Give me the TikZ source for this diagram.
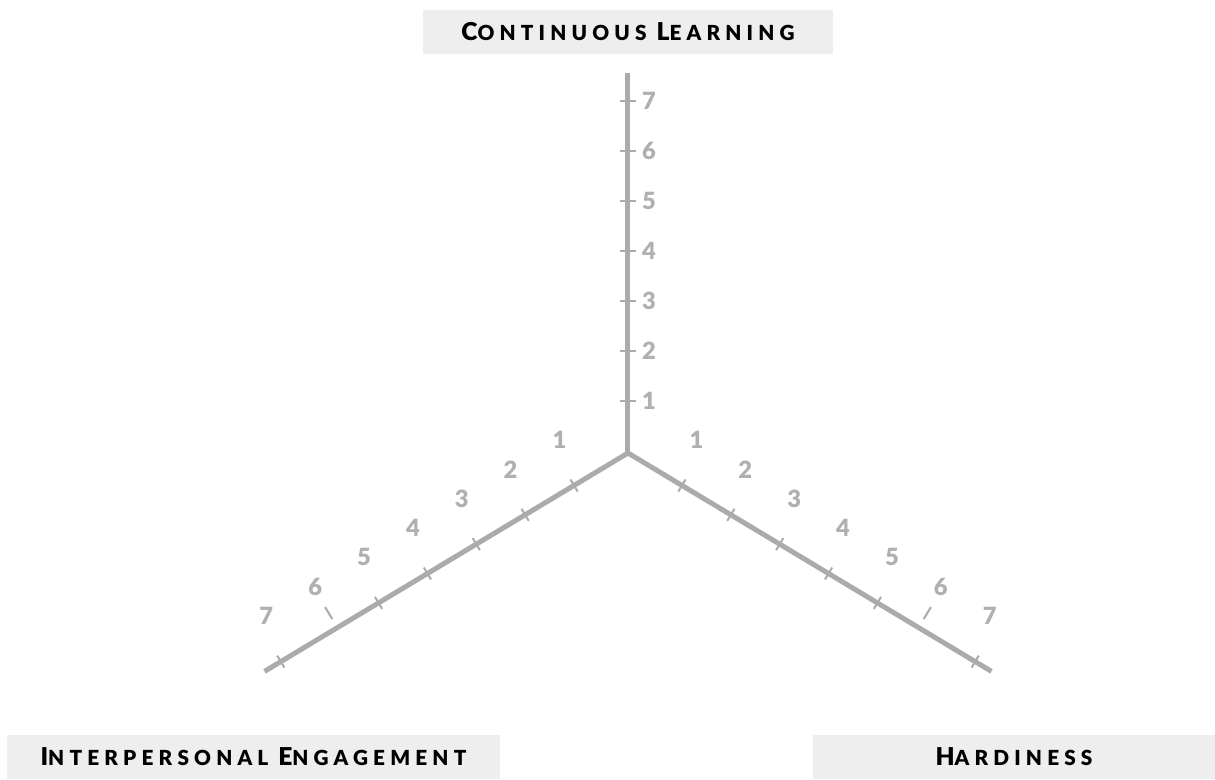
\documentclass[tikz,border=0pt]{standalone}
\usepackage{fontspec}
\setmainfont{Lato}[BoldFont=Lato Black]
\newfontfamily\capsfont{Lato}[LetterSpace=25,BoldFont=Lato Black]
\usetikzlibrary{calc}
\definecolor{boxgray}{HTML}{EEEEEE}
\definecolor{axisgray}{HTML}{ABABAB}
\definecolor{numgray}{HTML}{B0B0B0}
% bigger first letter of a small-caps word
\newcommand\initial[1]{{\fontsize{14}{14}\selectfont #1}}
\tikzset{
    %Define style for title boxes
    title/.style={
           fill=boxgray,
           minimum height=0.88cm,
           inner sep=0pt,
           font=\capsfont\bfseries\fontsize{11.8}{12}\selectfont,
           text centered},
    % Define axis style
    axis/.style={
           draw=axisgray,
           line width=0.1cm,
           line join=miter},
    tickmark/.style={
           draw=axisgray,
           line width=0.04cm},
    num/.style={
           text=numgray,
           font=\bfseries\fontsize{13.5}{14}\selectfont,
           inner sep=0pt}
}
\begin{document}
\begin{tikzpicture}
\useasboundingbox (-12.56,-6.52) rectangle (11.74,9.06);
\coordinate (O) at (0,0);
\coordinate (CL) at (90:7.6);
\coordinate (IE) at (211:8.48);
\coordinate (HA) at (329:8.48);
% axes
\draw[axis] (IE) -- (O) -- (HA);
\draw[axis] (O) -- (CL);
% continuous learning scale
\foreach \k in {1,...,7}{
  \draw[tickmark] ($(O)+(-0.16,\k+0.04)$) -- ++(0.32,0);
  \node[num] (cl-\k) at ($(O)+(0.42,\k+0.04)$) {\k};
}
% interpersonal engagement scale
\begin{scope}[rotate=211]
  \foreach \k in {1,...,5,7}
    \draw[tickmark] (1.14*\k+0.12,-0.14) -- ++(0,0.28);
  \foreach \k in {1,...,7}
    \node[num] (ie-\k) at (1.14*\k-0.1,-0.93) {\k};
  \draw[tickmark] (6.78,-0.2) -- (6.78,-0.48);
\end{scope}
% hardiness scale
\begin{scope}[rotate=329]
  \foreach \k in {1,...,5,7}
    \draw[tickmark] (1.14*\k+0.12,-0.14) -- ++(0,0.28);
  \foreach \k in {1,...,7}
    \node[num] (ha-\k) at (1.14*\k-0.1,0.93) {\k};
  \draw[tickmark] (6.78,0.2) -- (6.78,0.48);
\end{scope}
% titles
\node[title, minimum width=8.2cm] (learning) at ($(CL)+(0,0.82)$)
  {\initial{C}ONTINUOUS \initial{L}EARNING};
\node[title, minimum width=9.86cm] (engagement) at (-7.49,-6.08)
  {\initial{I}NTERPERSONAL \initial{E}NGAGEMENT};
\node[title, minimum width=8.04cm] (hardiness) at (7.72,-6.08)
  {\initial{H}ARDINESS};
\end{tikzpicture}
\end{document}
